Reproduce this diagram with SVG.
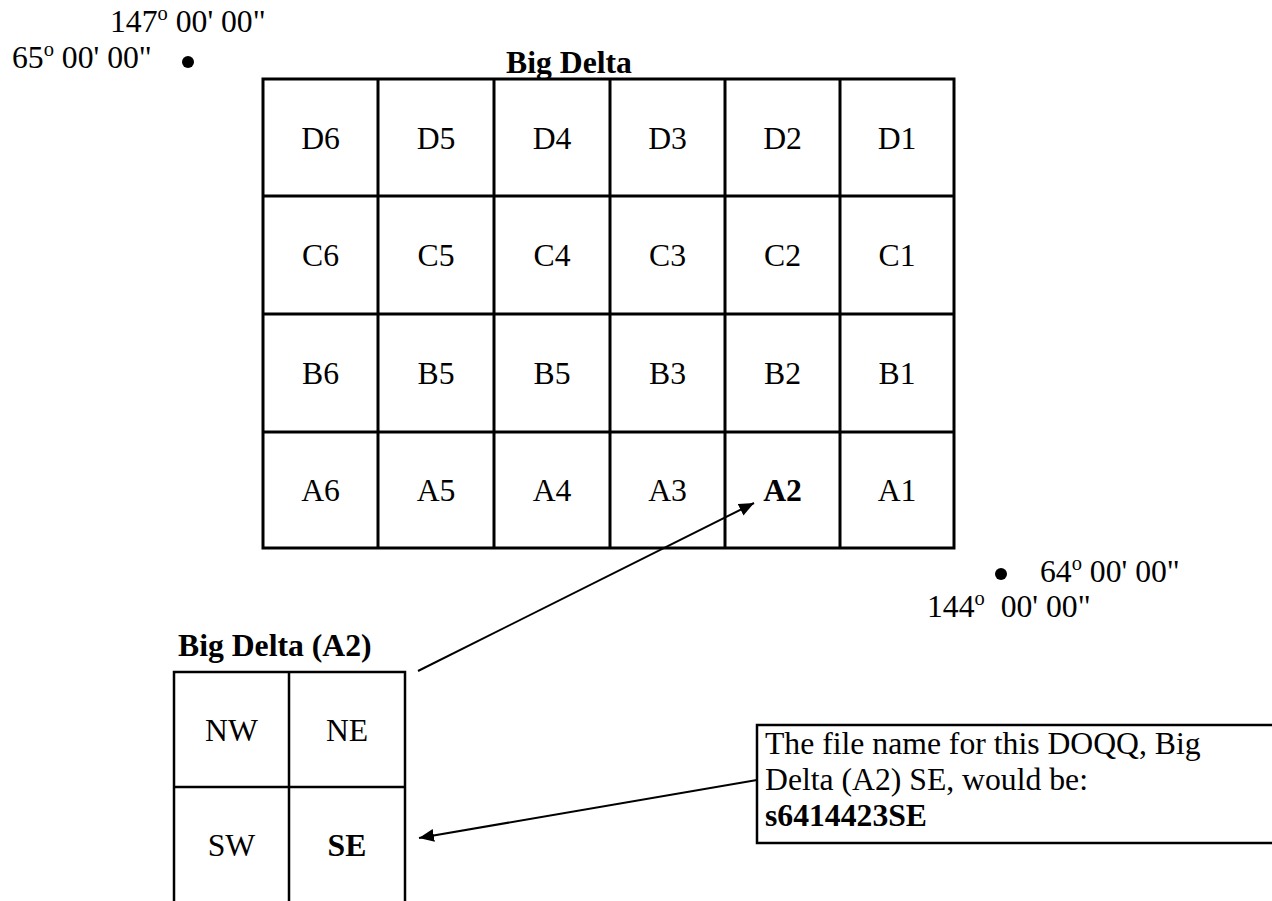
<svg xmlns="http://www.w3.org/2000/svg" width="1272" height="901" viewBox="0 0 1272 901">
<defs>
<style>
text{font-family:"Liberation Serif","Times New Roman",serif;font-size:31.7px;fill:#000}
.b{font-weight:bold}
.c{text-anchor:middle}
.sup{font-size:20.5px}
.dot{fill:#000}
.grid{fill:none;stroke:#000;stroke-width:3}
.small{fill:none;stroke:#000;stroke-width:2.5}
.conn{fill:none;stroke:#000;stroke-width:2}
</style>
<marker id="ah" markerUnits="userSpaceOnUse" viewBox="0 -6.5 15 13" refX="15" refY="0" markerWidth="15" markerHeight="13" orient="auto">
<path d="M0,-6.5 L15,0 L0,6.5 z" fill="#000"/>
</marker>
</defs>
<rect width="1272" height="901" fill="#fff"/>

<g id="coord-nw">
<text x="110" y="32">147<tspan class="sup" dy="-12">o</tspan><tspan dy="12"> 00' 00"</tspan></text>
<text x="12" y="68">65<tspan class="sup" dy="-12">o</tspan><tspan dy="12"> 00' 00"</tspan></text>
<circle class="dot" cx="188" cy="62" r="6"/>
</g>

<g id="coord-se">
<circle class="dot" cx="1001" cy="574" r="6"/>
<text x="1040" y="582">64<tspan class="sup" dy="-12">o</tspan><tspan dy="12"> 00' 00"</tspan></text>
<text x="927" y="617" xml:space="preserve">144<tspan class="sup" dy="-12">o</tspan><tspan dy="12">  00' 00"</tspan></text>
</g>

<g id="big-delta">
<text class="b c" x="569" y="73">Big Delta</text>
<rect class="grid" x="263" y="79" width="691" height="469"/>
<path class="grid" d="M378,79V548M494,79V548M610,79V548M725,79V548M840,79V548M263,196H954M263,314H954M263,432H954"/>
<g id="row-d">
<text class="c" x="320.5" y="149">D6</text><text class="c" x="436" y="149">D5</text><text class="c" x="552" y="149">D4</text><text class="c" x="667.5" y="149">D3</text><text class="c" x="782.5" y="149">D2</text><text class="c" x="897" y="149">D1</text>
</g>
<g id="row-c">
<text class="c" x="320.5" y="266">C6</text><text class="c" x="436" y="266">C5</text><text class="c" x="552" y="266">C4</text><text class="c" x="667.5" y="266">C3</text><text class="c" x="782.5" y="266">C2</text><text class="c" x="897" y="266">C1</text>
</g>
<g id="row-b">
<text class="c" x="320.5" y="384">B6</text><text class="c" x="436" y="384">B5</text><text class="c" x="552" y="384">B5</text><text class="c" x="667.5" y="384">B3</text><text class="c" x="782.5" y="384">B2</text><text class="c" x="897" y="384">B1</text>
</g>
<g id="row-a">
<text class="c" x="320.5" y="501">A6</text><text class="c" x="436" y="501">A5</text><text class="c" x="552" y="501">A4</text><text class="c" x="667.5" y="501">A3</text><text class="b c" x="782.5" y="501">A2</text><text class="c" x="897" y="501">A1</text>
</g>
</g>

<g id="big-delta-a2">
<text class="b" x="178" y="656">Big Delta (A2)</text>
<rect class="small" x="174" y="672" width="231" height="232"/>
<path class="small" d="M289,672V904M174,787H405"/>
<text class="c" x="231.5" y="741">NW</text>
<text class="c" x="347" y="741">NE</text>
<text class="c" x="231.5" y="856">SW</text>
<text class="b c" x="347" y="856">SE</text>
</g>

<g id="note">
<rect class="small" x="757" y="725" width="530" height="118"/>
<text x="765" y="754">The file name for this DOQQ, Big</text>
<text x="765" y="790">Delta (A2) SE, would be:</text>
<text class="b" x="765" y="826">s6414423SE</text>
</g>

<g id="connectors">
<line class="conn" x1="418" y1="671" x2="754" y2="503" marker-end="url(#ah)"/>
<line class="conn" x1="757" y1="780" x2="419" y2="838" marker-end="url(#ah)"/>
</g>
</svg>
